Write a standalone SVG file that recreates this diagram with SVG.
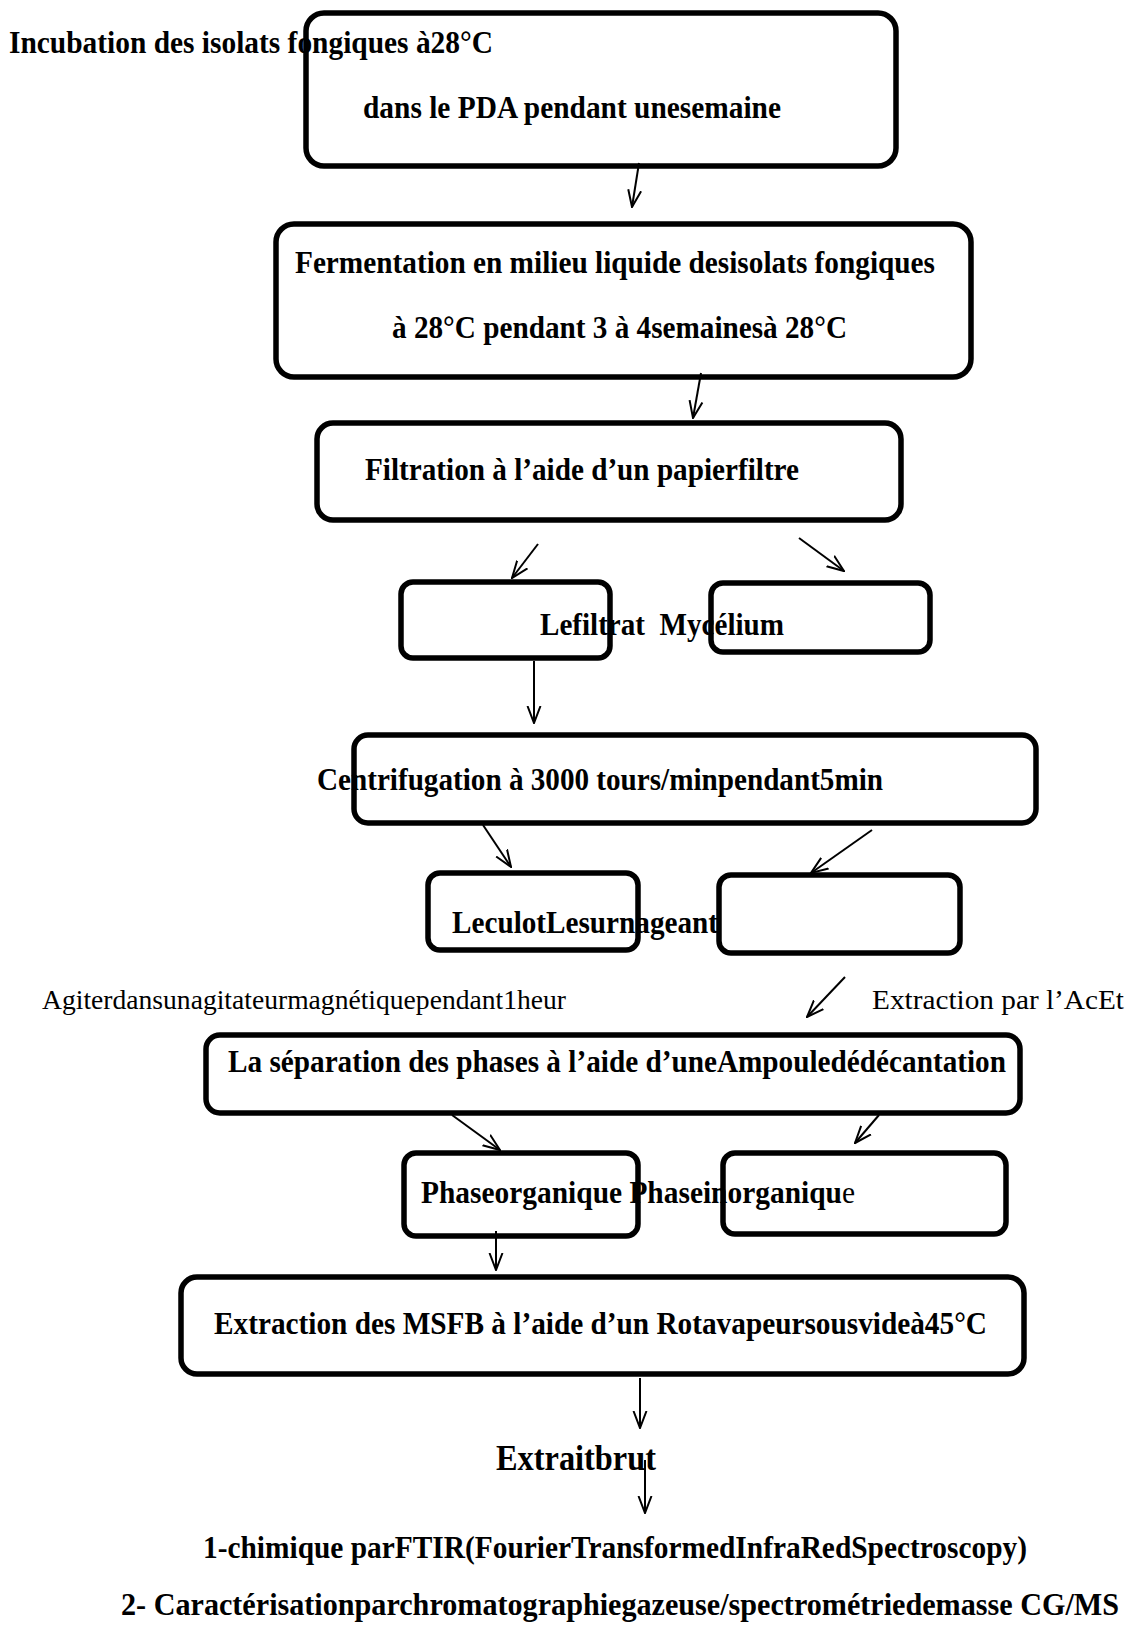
<svg xmlns="http://www.w3.org/2000/svg" width="1128" height="1635" viewBox="0 0 1128 1635">
<style>
.b{font-family:"Liberation Serif","Times New Roman",serif;font-weight:bold;font-size:31.5px;fill:#000}
.r{font-family:"Liberation Serif","Times New Roman",serif;font-weight:normal;font-size:27px;fill:#000}
.box{fill:none;stroke:#000;stroke-width:5.5}
.arr{fill:none;stroke:#000;stroke-width:2;marker-end:url(#ah)}
</style>
<defs>
<marker id="ah" markerUnits="userSpaceOnUse" viewBox="0 0 18 16" refX="17" refY="8" markerWidth="18" markerHeight="16" orient="auto">
<path d="M0,1.5 L17,8 L0,14.5" fill="none" stroke="#000" stroke-width="2"/>
</marker>
</defs>
<rect width="1128" height="1635" fill="#fff"/>
<g id="n1">
<text class="b" x="9" y="53" textLength="484" lengthAdjust="spacingAndGlyphs">Incubation des isolats fongiques à28°C</text>
<text class="b" x="363" y="118" textLength="418" lengthAdjust="spacingAndGlyphs">dans le PDA pendant unesemaine</text>
<rect class="box" x="306" y="13" width="590" height="153" rx="18"/>
</g>
<g id="n2">
<text class="b" x="295" y="273" textLength="640" lengthAdjust="spacingAndGlyphs">Fermentation en milieu liquide desisolats fongiques</text>
<text class="b" x="392" y="338" textLength="455" lengthAdjust="spacingAndGlyphs">à 28°C pendant 3 à 4semainesà 28°C</text>
<rect class="box" x="276" y="224" width="695" height="153" rx="18"/>
</g>
<g id="n3">
<text class="b" x="365" y="480" textLength="434" lengthAdjust="spacingAndGlyphs">Filtration à l’aide d’un papierfiltre</text>
<rect class="box" x="317" y="423" width="584" height="97" rx="16"/>
</g>
<g id="n4">
<text class="b" x="540" y="635" textLength="244" lengthAdjust="spacingAndGlyphs" style="white-space:pre">Lefiltrat  Mycélium</text>
<rect class="box" x="401" y="582" width="209" height="76" rx="12"/>
</g>
<g id="n5">
<rect class="box" x="711" y="583" width="219" height="69" rx="12"/>
</g>
<g id="n6">
<text class="b" x="317" y="790" textLength="566" lengthAdjust="spacingAndGlyphs">Centrifugation à 3000 tours/minpendant5min</text>
<rect class="box" x="354" y="735" width="682" height="88" rx="14"/>
</g>
<g id="n7">
<text class="b" x="452" y="933" textLength="266" lengthAdjust="spacingAndGlyphs">LeculotLesurnageant</text>
<rect class="box" x="428" y="873" width="210" height="77" rx="12"/>
</g>
<g id="n8">
<rect class="box" x="719" y="875" width="241" height="78" rx="12"/>
</g>
<g id="labels">
<text class="r" x="42" y="1009" textLength="524" lengthAdjust="spacingAndGlyphs">Agiterdansunagitateurmagnétiquependant1heur</text>
<text class="r" x="872" y="1009" textLength="252" lengthAdjust="spacingAndGlyphs">Extraction par l’AcEt</text>
</g>
<g id="n9">
<text class="b" x="228" y="1072" textLength="778" lengthAdjust="spacingAndGlyphs">La séparation des phases à l’aide d’uneAmpouledédécantation</text>
<rect class="box" x="206" y="1035" width="814" height="78" rx="14"/>
</g>
<g id="n10">
<text class="b" x="421" y="1203" textLength="434" lengthAdjust="spacingAndGlyphs">Phaseorganique Phaseinorganiqu<tspan font-weight="normal">e</tspan></text>
<rect class="box" x="404" y="1153" width="234" height="83" rx="12"/>
</g>
<g id="n11">
<rect class="box" x="723" y="1153" width="283" height="81" rx="12"/>
</g>
<g id="n12">
<text class="b" x="214" y="1334" textLength="773" lengthAdjust="spacingAndGlyphs">Extraction des MSFB à l’aide d’un Rotavapeursousvideà45°C</text>
<rect class="box" x="181" y="1277" width="843" height="97" rx="16"/>
</g>
<g id="n13">
<text class="b" x="496" y="1470" style="font-size:35px" textLength="160" lengthAdjust="spacingAndGlyphs">Extraitbrut</text>
</g>
<g id="n14">
<text class="b" x="203" y="1558" textLength="824" lengthAdjust="spacingAndGlyphs">1-chimique parFTIR(FourierTransformedInfraRedSpectroscopy)</text>
<text class="b" x="121" y="1615" textLength="998" lengthAdjust="spacingAndGlyphs">2- Caractérisationparchromatographiegazeuse/spectrométriedemasse CG/MS</text>
</g>
<g id="connectors">
<line class="arr" x1="639" y1="163" x2="632" y2="207"/>
<line class="arr" x1="701" y1="373" x2="693" y2="418"/>
<line class="arr" x1="538" y1="544" x2="512" y2="578"/>
<line class="arr" x1="799" y1="538" x2="844" y2="571"/>
<line class="arr" x1="534" y1="661" x2="534" y2="723"/>
<line class="arr" x1="483" y1="825" x2="511" y2="867"/>
<line class="arr" x1="872" y1="830" x2="811" y2="873"/>
<line class="arr" x1="845" y1="977" x2="807" y2="1017"/>
<line class="arr" x1="452" y1="1115" x2="500" y2="1150"/>
<line class="arr" x1="879" y1="1115" x2="855" y2="1143"/>
<line class="arr" x1="496" y1="1231" x2="496" y2="1270"/>
<line class="arr" x1="640" y1="1378" x2="640" y2="1428"/>
<line class="arr" x1="645" y1="1460" x2="645" y2="1513"/>
</g>
</svg>
